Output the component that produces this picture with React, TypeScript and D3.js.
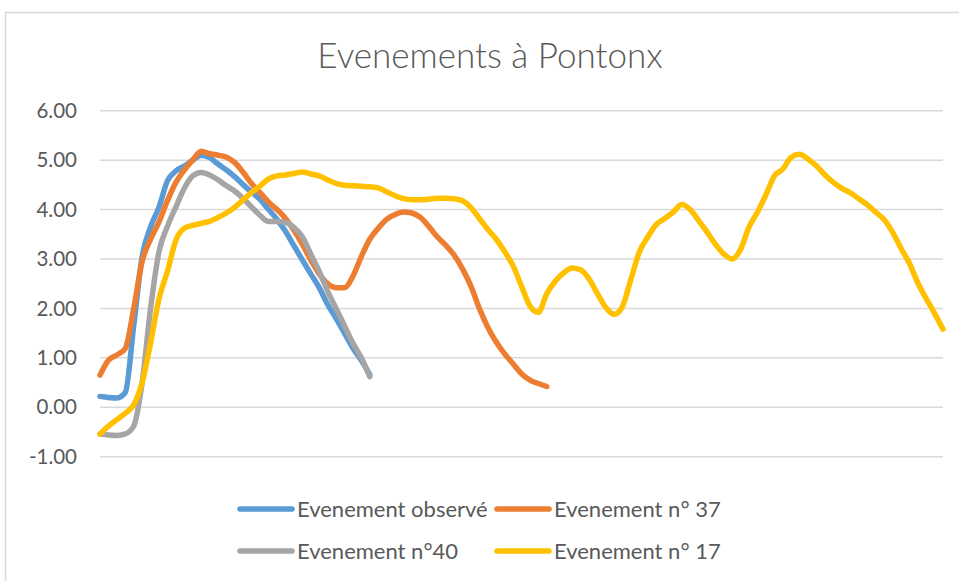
import React from "react";
import * as d3 from "d3";

// values, one per time step
const observe = [
  0.22, 0.2, 0.19, 0.3, 1.65, 3.05, 3.65, 4.05, 4.58, 4.78, 4.88, 5.0, 5.1, 5.05, 4.92, 4.8, 4.66,
  4.5, 4.35, 4.2, 4.0, 3.8, 3.56, 3.27, 2.98, 2.7, 2.42, 2.08, 1.8, 1.5, 1.2, 0.95, 0.66,
];
const event37 = [
  0.65, 0.95, 1.06, 1.19, 2.0, 2.95, 3.4, 3.75, 4.18, 4.55, 4.8, 5.0, 5.18, 5.13, 5.1, 5.06, 4.95,
  4.75, 4.52, 4.34, 4.15, 4.0, 3.82, 3.58, 3.3, 2.98, 2.7, 2.5, 2.42, 2.42, 2.65, 3.05, 3.4, 3.62,
  3.8, 3.9, 3.95, 3.93, 3.84, 3.66, 3.45, 3.28, 3.08, 2.8, 2.45, 2.0, 1.62, 1.32, 1.08, 0.88, 0.68,
  0.55, 0.48, 0.42,
];
const event40 = [
  -0.54, -0.56, -0.57, -0.54, -0.38, 0.5, 2.0, 3.15, 3.66, 4.05, 4.43, 4.68, 4.75, 4.7, 4.6, 4.48,
  4.37, 4.22, 4.05, 3.88, 3.76, 3.76, 3.74, 3.64, 3.45, 3.1, 2.75, 2.35, 2.0, 1.65, 1.3, 1.0, 0.62,
];
const event17 = [
  -0.54, -0.38, -0.25, -0.12, 0.05, 0.5, 1.3, 2.2, 2.75, 3.38, 3.62, 3.68, 3.72, 3.76, 3.84, 3.93,
  4.05, 4.2, 4.35, 4.48, 4.62, 4.68, 4.7, 4.73, 4.76, 4.72, 4.68, 4.6, 4.53, 4.49, 4.48, 4.47, 4.46,
  4.44, 4.36, 4.28, 4.22, 4.2, 4.2, 4.21, 4.23, 4.23, 4.22, 4.18, 4.04, 3.82, 3.6, 3.4, 3.15, 2.86,
  2.45, 2.05, 1.92, 2.3, 2.55, 2.72, 2.82, 2.78, 2.6, 2.3, 2.02, 1.88, 2.05, 2.6, 3.15, 3.45, 3.7,
  3.82, 3.95, 4.1, 4.0, 3.78, 3.55, 3.3, 3.1, 3.0, 3.2, 3.65, 3.95, 4.3, 4.68, 4.82, 5.06, 5.12,
  5.02, 4.88, 4.7, 4.55, 4.43, 4.34, 4.22, 4.1, 3.95, 3.8, 3.55, 3.22, 2.92, 2.52, 2.2, 1.9, 1.58,
];

const yTicks = [-1, 0, 1, 2, 3, 4, 5, 6];

const series = [
  { name: "Evenement observé", values: observe, color: "#5B9BD5" },
  { name: "Evenement n° 37", values: event37, color: "#ED7D31" },
  { name: "Evenement n°40", values: event40, color: "#A5A5A5" },
  { name: "Evenement n° 17", values: event17, color: "#FFC000" },
];

const font = "Lato, 'Open Sans', sans-serif";

export default function App() {
  const x = d3.scaleLinear().domain([0, event17.length - 1]).range([100, 943]);
  const y = d3.scaleLinear().domain([-1, 6]).range([456.7, 110.7]);

  const line = d3
    .line<number>()
    .x((_, i) => x(i))
    .y((d) => y(d))
    .curve(d3.curveMonotoneX);

  // legend: 2 columns x 2 rows
  const legendPos = [
    { lx: 240, ty: 509 },
    { lx: 497, ty: 509 },
    { lx: 240, ty: 551 },
    { lx: 497, ty: 551 },
  ];

  return (
    <div style={{ position: "absolute", left: 0, top: 0 }}>
      <svg width={959} height={581} style={{ display: "block", background: "#fff" }}>
        <rect x={5.5} y={12.5} width={970} height={600} fill="#fff" stroke="#d9d9d9" strokeWidth={1.5} />

        <text x={490} y={68} textAnchor="middle" fontFamily={font} fontWeight={300} fontSize={35} fill="#595959">
          Evenements à Pontonx
        </text>

        {yTicks.map((t) => (
          <g key={t}>
            <line x1={100} x2={943} y1={y(t)} y2={y(t)} stroke="#d9d9d9" strokeWidth={1.5} />
            <text
              x={77}
              y={y(t)}
              dy="0.35em"
              textAnchor="end"
              fontFamily={font}
              fontSize={20.5}
              fill="#595959"
            >
              {t.toFixed(2)}
            </text>
          </g>
        ))}

        {series.map((s) => (
          <path
            key={s.name}
            d={line(s.values) ?? ""}
            fill="none"
            stroke={s.color}
            strokeWidth={5.5}
            strokeLinecap="round"
            strokeLinejoin="round"
          />
        ))}

        {series.map((s, i) => (
          <g key={s.name}>
            <line
              x1={legendPos[i].lx}
              x2={legendPos[i].lx + 52}
              y1={legendPos[i].ty}
              y2={legendPos[i].ty}
              stroke={s.color}
              strokeWidth={5.5}
              strokeLinecap="round"
            />
            <text
              x={legendPos[i].lx + 57}
              y={legendPos[i].ty}
              dy="0.35em"
              fontFamily={font}
              fontSize={22}
              fill="#595959"
            >
              {s.name}
            </text>
          </g>
        ))}
      </svg>
    </div>
  );
}
